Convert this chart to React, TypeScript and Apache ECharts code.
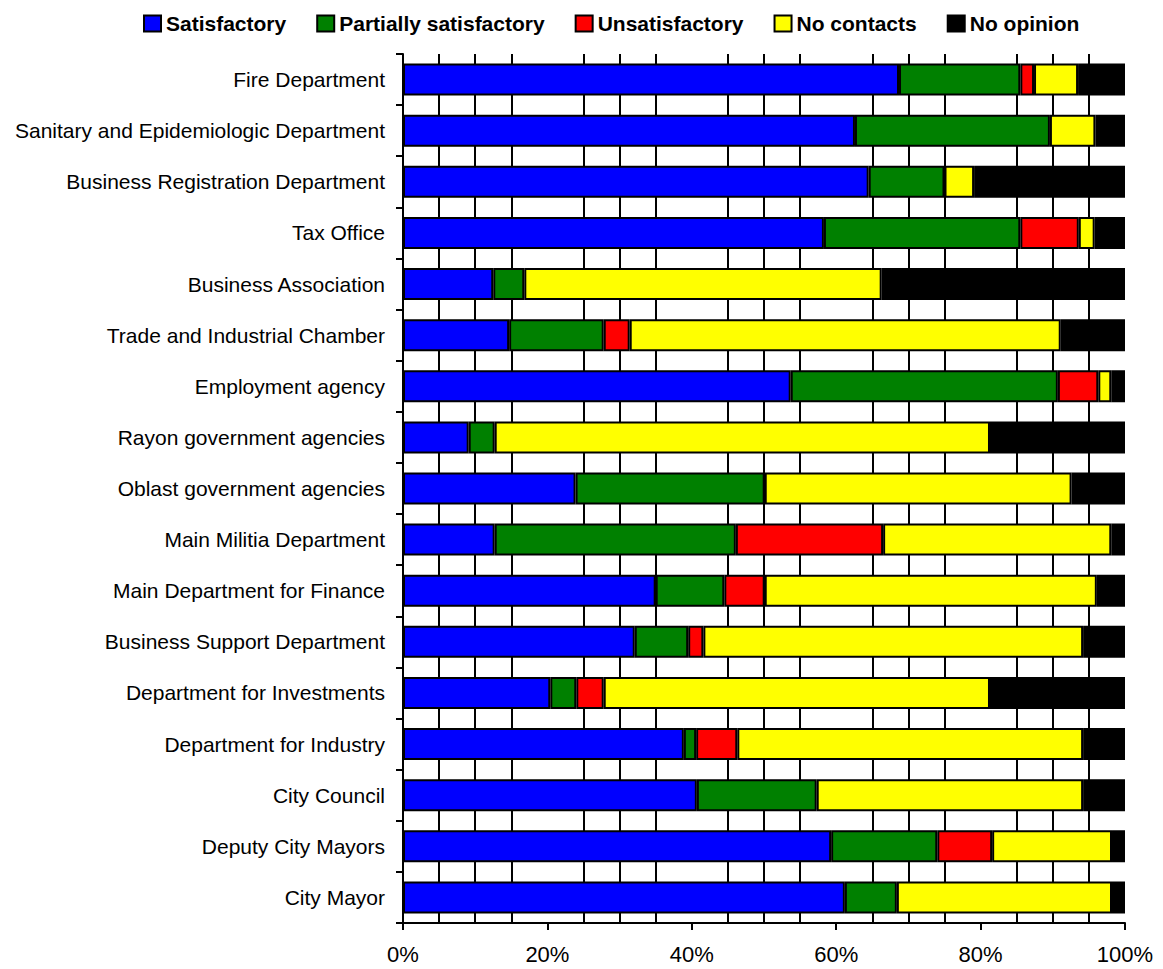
import React, { useEffect, useRef } from "react";
import * as echarts from "echarts";

const categories = [
  "Fire Department",
  "Sanitary and Epidemiologic Department",
  "Business Registration Department",
  "Tax Office",
  "Business Association",
  "Trade and Industrial Chamber",
  "Employment agency",
  "Rayon government agencies",
  "Oblast government agencies",
  "Main Militia Department",
  "Main Department for Finance",
  "Business Support Department",
  "Department for Investments",
  "Department for Industry",
  "City Council",
  "Deputy City Mayors",
  "City Mayor",
];

const satisfactory = [68.7, 62.6, 64.5, 58.3, 12.5, 14.7, 53.7, 9.1, 23.9, 12.7, 35.0, 32.1, 20.4, 38.9, 40.7, 59.3, 61.2];
const partially = [16.8, 27.0, 10.5, 27.2, 4.3, 13.1, 37.0, 3.6, 26.2, 33.4, 9.5, 7.4, 3.6, 1.7, 16.6, 14.7, 7.2];
const unsatisfactory = [1.9, 0, 0, 8.1, 0, 3.6, 5.6, 0, 0, 20.4, 5.6, 2.1, 3.8, 5.7, 0, 7.6, 0];
const noContacts = [6.1, 6.3, 4.1, 2.2, 49.5, 59.7, 1.8, 68.6, 42.5, 31.6, 46.0, 52.6, 53.5, 47.9, 36.9, 16.6, 29.8];
const noOpinion = [6.5, 4.1, 20.9, 4.2, 33.7, 8.9, 1.9, 18.7, 7.4, 1.9, 3.9, 5.8, 18.7, 5.8, 5.8, 1.8, 1.8];

const xTicks = [0, 20, 40, 60, 80, 100];

const FONT = "'Liberation Sans', Arial, sans-serif";

export default function App() {
  const ref = useRef<HTMLDivElement>(null);
  useEffect(() => {
    if (!ref.current) return;
    const chart = echarts.init(ref.current, null, { renderer: "svg" });
    const mk = (name: string, data: number[], color: string) => ({
      name,
      type: "bar",
      stack: "total",
      barWidth: 32,
      xAxisIndex: 0,
      data: data.map((v) => (v === 0 ? "-" : v)),
      itemStyle: { color, borderColor: "#000", borderWidth: 2 },
    });
    chart.setOption({
      animation: false,
      backgroundColor: "#fff",
      textStyle: { fontFamily: FONT },
      legend: {
        top: 8,
        left: 138,
        itemWidth: 17,
        itemHeight: 16,
        itemGap: 30,
        icon: "rect",
        textStyle: { fontFamily: FONT, fontSize: 21, fontWeight: "bold", color: "#000" },
        data: ["Satisfactory", "Partially satisfactory", "Unsatisfactory", "No contacts", "No opinion"],
      },
      grid: { left: 403, right: 38, top: 54, bottom: 46, containLabel: false },
      xAxis: [
        {
          type: "value",
          min: xTicks[0],
          max: xTicks[xTicks.length - 1],
          interval: xTicks[1] - xTicks[0],
          position: "bottom",
          axisLine: { show: true, lineStyle: { color: "#000", width: 2 } },
          axisTick: { show: true, length: 7, lineStyle: { color: "#000", width: 2 } },
          axisLabel: {
            fontFamily: FONT,
            fontSize: 22,
            color: "#000",
            margin: 20,
            formatter: (v: number) => v + "%",
          },
          splitLine: { show: false },
        },
        {
          type: "value",
          min: 0,
          max: 100,
          interval: 5,
          position: "bottom",
          axisLine: { show: false },
          axisTick: { show: false },
          axisLabel: { show: false },
          splitLine: {
            show: true,
            lineStyle: { color: ["rgba(0,0,0,0)", "#000", "#000", "#000"], width: 2 },
          },
        },
      ],
      yAxis: {
        type: "category",
        inverse: true,
        data: categories,
        axisLine: { show: true, lineStyle: { color: "#000", width: 2 } },
        axisTick: { show: true, length: 7, lineStyle: { color: "#000", width: 2 } },
        axisLabel: { fontFamily: FONT, fontSize: 21, color: "#000", margin: 18 },
        splitLine: { show: false },
      },
      series: [
        mk("Satisfactory", satisfactory, "#0000FF"),
        mk("Partially satisfactory", partially, "#008000"),
        mk("Unsatisfactory", unsatisfactory, "#FF0000"),
        mk("No contacts", noContacts, "#FFFF00"),
        mk("No opinion", noOpinion, "#000000"),
      ],
    });
    return () => chart.dispose();
  }, []);
  return (
    <div
      ref={ref}
      style={{ position: "fixed", left: 0, top: 0, width: 1163, height: 969 }}
    />
  );
}
